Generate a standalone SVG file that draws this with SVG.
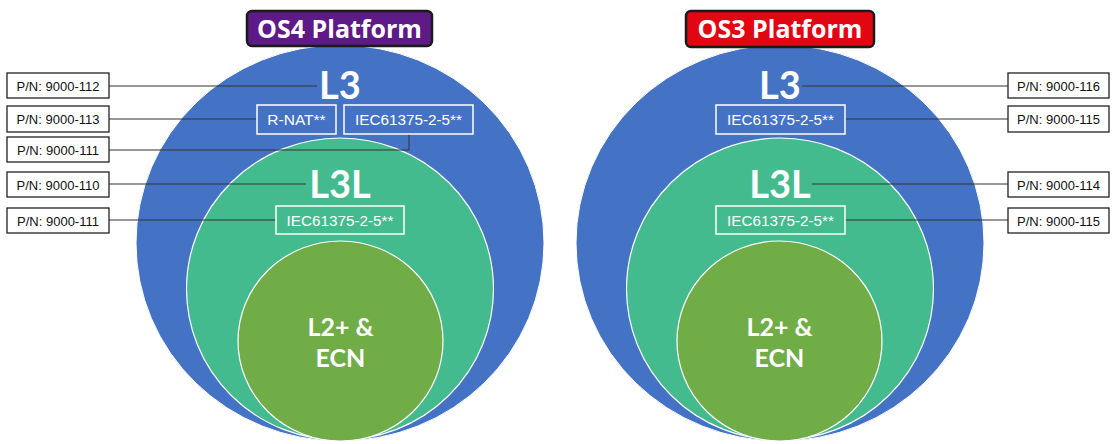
<svg xmlns="http://www.w3.org/2000/svg" width="1113" height="444" viewBox="0 0 1113 444">
<style>
.blue{fill:#4472C4;stroke:#fff;stroke-width:1}
.teal{fill:#44BB8E;stroke:#fff;stroke-width:1.2}
.lime{fill:#70AD47;stroke:#fff;stroke-width:1.2}
.lvl{font-family:Lato,"Open Sans",sans-serif;font-weight:bold;fill:#fff;text-anchor:middle}
.big{font-size:38px}
.mid{font-size:25px}
.wbox{fill:none;stroke:#fff;stroke-width:1.5}
.wtxt{font-family:"Liberation Sans",Arial,sans-serif;font-size:15.5px;fill:#fff;text-anchor:middle}
.pn rect{fill:#fff;stroke:#222;stroke-width:1.3}
.pn text{font-family:"Liberation Sans",Arial,sans-serif;font-size:13px;fill:#111;text-anchor:middle}
.conn line,.conn polyline{stroke:#333;stroke-width:1;fill:none}
.title text{font-family:"Open Sans",Lato,sans-serif;font-weight:bold;font-size:25px;fill:#fff;text-anchor:middle}
.title rect{stroke:#1a1a1a;stroke-width:2.5}
</style>

<g id="os4-circles">
<ellipse id="os4-l3" class="blue" cx="340" cy="243" rx="204" ry="198"/>
<ellipse id="os4-l3l" class="teal" cx="340" cy="289" rx="153.5" ry="151"/>
<ellipse id="os4-l2" class="lime" cx="340.5" cy="341" rx="102.5" ry="100"/>
</g>
<g id="os3-circles">
<ellipse id="os3-l3" class="blue" cx="780" cy="243" rx="204" ry="198"/>
<ellipse id="os3-l3l" class="teal" cx="780" cy="289" rx="153.5" ry="151"/>
<ellipse id="os3-l2" class="lime" cx="779.5" cy="341" rx="102.5" ry="100"/>
</g>

<g id="connectors" class="conn">
<line x1="109" y1="86" x2="317" y2="86"/>
<line x1="109" y1="119" x2="257" y2="119"/>
<polyline points="109,150 409,150 409,134"/>
<line x1="109" y1="184" x2="306" y2="184"/>
<line x1="109" y1="220" x2="276" y2="220"/>
<line x1="802" y1="86" x2="1008" y2="86"/>
<line x1="845" y1="119" x2="1008" y2="119"/>
<line x1="812" y1="184" x2="1008" y2="184"/>
<line x1="845" y1="220" x2="1008" y2="220"/>
</g>

<g id="os4-labels">
<text class="lvl big" x="340" y="99">L3</text>
<text class="lvl big" x="340" y="198">L3L</text>
<text class="lvl mid" x="340.5" y="336">L2+ &amp;</text>
<text class="lvl mid" x="340.5" y="367">ECN</text>
</g>
<g id="os3-labels">
<text class="lvl big" x="780" y="99">L3</text>
<text class="lvl big" x="780" y="198">L3L</text>
<text class="lvl mid" x="779.5" y="336">L2+ &amp;</text>
<text class="lvl mid" x="779.5" y="367">ECN</text>
</g>

<g id="os4-rnat">
<rect class="wbox" x="257" y="105" width="79" height="29"/>
<text class="wtxt" x="296.5" y="125">R-NAT**</text>
</g>
<g id="os4-iec-l3">
<rect class="wbox" x="344" y="105" width="129" height="29"/>
<text class="wtxt" x="408.5" y="125" textLength="107" lengthAdjust="spacingAndGlyphs">IEC61375-2-5**</text>
</g>
<g id="os4-iec-l3l">
<rect class="wbox" x="276" y="206" width="128" height="28"/>
<text class="wtxt" x="340" y="225.5" textLength="107" lengthAdjust="spacingAndGlyphs">IEC61375-2-5**</text>
</g>
<g id="os3-iec-l3">
<rect class="wbox" x="716" y="105" width="129" height="29"/>
<text class="wtxt" x="780.5" y="125" textLength="107" lengthAdjust="spacingAndGlyphs">IEC61375-2-5**</text>
</g>
<g id="os3-iec-l3l">
<rect class="wbox" x="716" y="206" width="129" height="28"/>
<text class="wtxt" x="780.5" y="225.5" textLength="107" lengthAdjust="spacingAndGlyphs">IEC61375-2-5**</text>
</g>

<g id="pn-112" class="pn"><rect x="7" y="73" width="102" height="25"/><text x="58" y="90.5">P/N: 9000-112</text></g>
<g id="pn-113" class="pn"><rect x="7" y="106" width="102" height="26"/><text x="58" y="123.5">P/N: 9000-113</text></g>
<g id="pn-111a" class="pn"><rect x="7" y="137" width="102" height="25"/><text x="58" y="154.5">P/N: 9000-111</text></g>
<g id="pn-110" class="pn"><rect x="7" y="172" width="102" height="25"/><text x="58" y="189.5">P/N: 9000-110</text></g>
<g id="pn-111b" class="pn"><rect x="7" y="208" width="102" height="25"/><text x="58" y="225.5">P/N: 9000-111</text></g>

<g id="pn-116" class="pn"><rect x="1008" y="73" width="101" height="25"/><text x="1058.5" y="90.5">P/N: 9000-116</text></g>
<g id="pn-115a" class="pn"><rect x="1008" y="106" width="101" height="26"/><text x="1058.5" y="123.5">P/N: 9000-115</text></g>
<g id="pn-114" class="pn"><rect x="1008" y="172" width="101" height="25"/><text x="1058.5" y="189.5">P/N: 9000-114</text></g>
<g id="pn-115b" class="pn"><rect x="1008" y="208" width="101" height="25"/><text x="1058.5" y="225.5">P/N: 9000-115</text></g>

<g id="title-os4" class="title">
<rect x="247" y="11" width="185" height="35" rx="5" fill="#5E1A86"/>
<text x="339.5" y="37.5">OS4 Platform</text>
</g>
<g id="title-os3" class="title">
<rect x="686" y="11" width="188" height="36" rx="5" fill="#E20613"/>
<text x="780" y="38">OS3 Platform</text>
</g>
</svg>
